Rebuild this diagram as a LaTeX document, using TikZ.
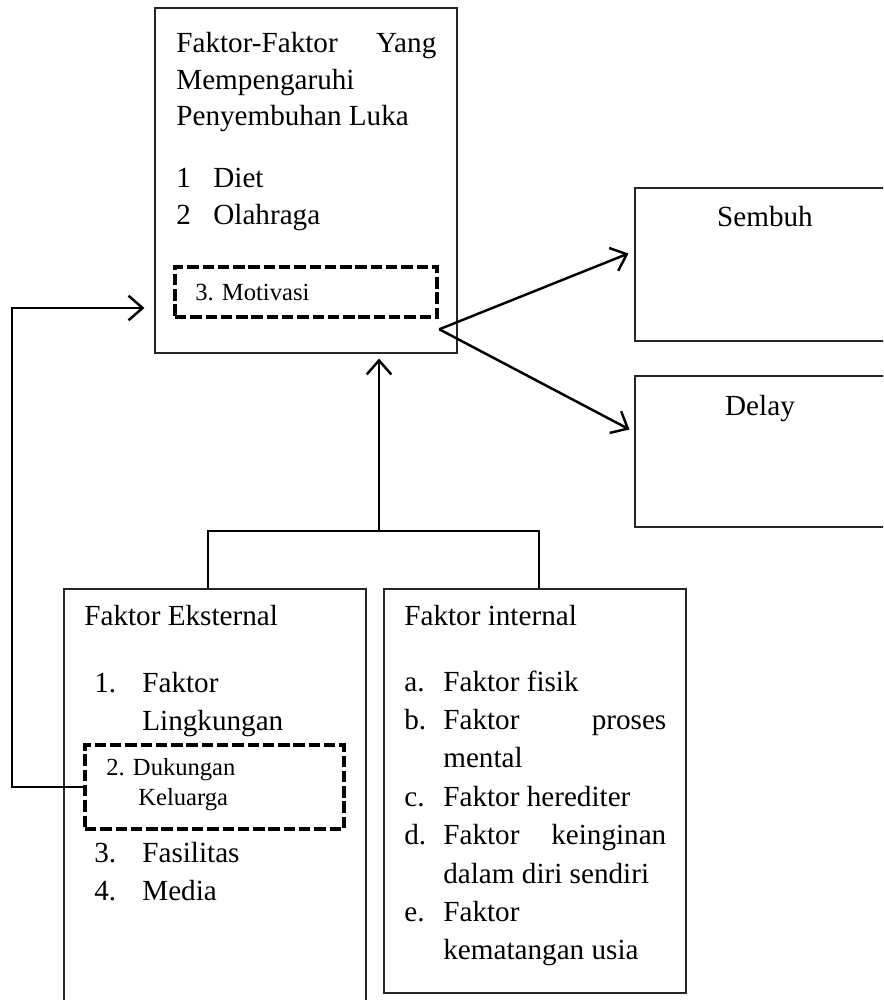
\documentclass[tikz,border=0pt]{standalone}
\usepackage{fontspec}
\setmainfont{Liberation Serif}
\usetikzlibrary{calc, arrows.meta, fit}

\tikzset{
    box/.style = {draw = black!85, line width = 0.6pt, inner sep = 0pt},
    dashbox/.style = {draw = black, line width = 2.6pt, dash pattern = on 6.5pt off 2.2pt, inner sep = 0pt},
    conn/.style = {black, line width = 1.4pt},
    txt/.style = {anchor = base west, inner sep = 0pt, font = \fontsize{16.6}{21}\selectfont},
    small/.style = {anchor = base west, inner sep = 0pt, font = \fontsize{14}{17}\selectfont},
    >={Straight Barb[length = 8pt, width = 14pt]}
}

\begin{document}
\begin{tikzpicture}[x = 0.02cm, y = -0.02cm]
            \useasboundingbox (0, 0) rectangle (883, 1000);
            \clip (0, 0) rectangle (883, 1000);

            % boxes
            \node[box, fit = {(155, 8) (457, 353)}] (faktor) {};
            \node[box, fit = {(635, 188) (895, 341)}] (sembuh) {};
            \node[box, fit = {(635, 376) (895, 527)}] (delay) {};
            \node[box, fit = {(64, 589) (366, 1010)}] (eksternal) {};
            \node[box, fit = {(384, 589) (686, 993)}] (internal) {};
            \node[dashbox, fit = {(175, 267) (437, 317)}] (motivasi) {};
            \node[dashbox, fit = {(85, 745) (344, 829)}] (dukungan) {};

            % top box text
            \node[txt] (judul1) at (176, 53) {\makebox[5.2cm][s]{Faktor-Faktor\hfill Yang}};
            \node[txt] (judul2) at (176, 90) {Mempengaruhi};
            \node[txt] (judul3) at (176, 126) {Penyembuhan Luka};
            \foreach \n/\item/\y in {1/Diet/188, 2/Olahraga/225} {
                \node[txt] (num-\n) at (176, \y) {\n};
                \node[txt] (item-\n) at (213, \y) {\item};
            }
            \node[small] (motivasi-txt) at (195, 300) {3. Motivasi};

            \node[txt, anchor = base] (sembuh-txt) at (765, 227) {Sembuh};
            \node[txt, anchor = base] (delay-txt) at (760, 415) {Delay};

            % faktor eksternal
            \node[txt] (eks-judul) at (84, 625) {Faktor Eksternal};
            \node[txt] (eks-1) at (94, 692) {1.};
            \node[txt] (eks-1a) at (142, 692) {Faktor};
            \node[txt] (eks-1b) at (142, 730) {Lingkungan};
            \node[small] (eks-2a) at (106, 775) {2. Dukungan};
            \node[small] (eks-2b) at (138, 805) {Keluarga};
            \foreach \n/\item/\y in {3/Fasilitas/862, 4/Media/900} {
                \node[txt] (eks-\n) at (94, \y) {\n.};
                \node[txt] (eks-\n a) at (142, \y) {\item};
            }

            % faktor internal
            \node[txt] (int-judul) at (404, 625) {Faktor internal};
            \foreach \l/\y in {a/691, b/729.4, c/806.2, d/844.6, e/921.4} {
                \node[txt] (int-\l) at (404, \y) {\l.};
            }
            \node[txt] (int-a1) at (443, 691) {Faktor fisik};
            \node[txt] (int-b1) at (443, 729.4) {\makebox[4.46cm][s]{Faktor\hfill proses}};
            \node[txt] (int-b2) at (443, 767.8) {mental};
            \node[txt] (int-c1) at (443, 806.2) {Faktor herediter};
            \node[txt] (int-d1) at (443, 844.6) {\makebox[4.46cm][s]{Faktor\hfill keinginan}};
            \node[txt] (int-d2) at (443, 883) {dalam diri sendiri};
            \node[txt] (int-e1) at (443, 921.4) {Faktor};
            \node[txt] (int-e2) at (443, 959.8) {kematangan usia};

            % connectors
            \coordinate (split) at ($(motivasi.south east) + (0, 10)$);
            \coordinate (join) at (379, 531);
            \coordinate (balik) at (12, 308);

            \draw[conn, ->] (split) -- ($(sembuh.north west) + (-6, 66)$);
            \draw[conn, ->] (split) -- ($(delay.north west) + (-5, 54)$);

            \draw[conn] ($(eksternal.north) + (-7, 0)$) |- (join) -| ($(internal.north) + (4, 0)$);
            \draw[conn, ->] (join) -- ($(join |- faktor.south) + (0, 5)$);

            \draw[conn, ->] (dukungan.west) -| (balik) -- ($(balik -| faktor.west) + (-10, 0)$);
\end{tikzpicture}
\end{document}
